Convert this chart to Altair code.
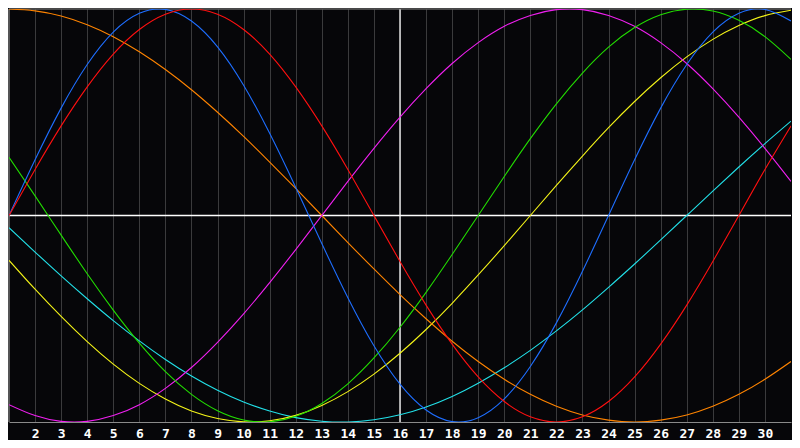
import altair as alt
import pandas as pd

days = list(range(1, 32))
tick_days = list(range(2, 31))

physical = [0.0, 0.270, 0.520, 0.731, 0.888, 0.979, 0.998, 0.942, 0.817, 0.631, 0.398, 0.136,
            -0.136, -0.398, -0.631, -0.817, -0.942, -0.998, -0.979, -0.888, -0.731, -0.520,
            -0.270, 0.0, 0.270, 0.520, 0.731, 0.888, 0.979, 0.998, 0.942]
emotional = [0.0, 0.223, 0.434, 0.623, 0.782, 0.901, 0.975, 1.0, 0.975, 0.901, 0.782, 0.623,
             0.434, 0.223, 0.0, -0.223, -0.434, -0.623, -0.782, -0.901, -0.975, -1.0, -0.975,
             -0.901, -0.782, -0.623, -0.434, -0.223, 0.0, 0.223, 0.434]
intellectual = [0.282, 0.095, -0.095, -0.282, -0.458, -0.618, -0.756, -0.866, -0.945, -0.990,
                -0.999, -0.972, -0.910, -0.815, -0.690, -0.541, -0.372, -0.189, 0.0, 0.189,
                0.372, 0.541, 0.690, 0.815, 0.910, 0.972, 0.999, 0.990, 0.945, 0.866, 0.756]
intuitive = [-0.916, -0.969, -0.997, -0.997, -0.969, -0.916, -0.837, -0.736, -0.614, -0.476,
             -0.325, -0.165, 0.0, 0.165, 0.325, 0.476, 0.614, 0.736, 0.837, 0.916, 0.969,
             0.997, 0.997, 0.969, 0.916, 0.837, 0.736, 0.614, 0.476, 0.325, 0.165]
aesthetic = [-0.217, -0.357, -0.489, -0.611, -0.720, -0.813, -0.889, -0.947, -0.983, -0.999,
             -0.994, -0.968, -0.920, -0.853, -0.768, -0.667, -0.552, -0.425, -0.288, -0.146,
             0.0, 0.146, 0.288, 0.425, 0.552, 0.667, 0.768, 0.853, 0.920, 0.968, 0.994]
awareness = [1.0, 0.991, 0.966, 0.924, 0.866, 0.793, 0.707, 0.609, 0.5, 0.383, 0.259, 0.131,
             0.0, -0.131, -0.259, -0.383, -0.5, -0.609, -0.707, -0.793, -0.866, -0.924,
             -0.966, -0.991, -1.0, -0.991, -0.966, -0.924, -0.866, -0.793, -0.707]
spiritual = [-0.059, -0.177, -0.292, -0.403, -0.509, -0.607, -0.697, -0.777, -0.846, -0.903,
             -0.947, -0.979, -0.996, -1.0, -0.989, -0.965, -0.927, -0.876, -0.812, -0.737,
             -0.653, -0.559, -0.457, -0.348, -0.235, -0.118, 0.0, 0.118, 0.235, 0.348, 0.457]

series_names = ["Spiritual", "Aesthetic", "Awareness", "Intuitive", "Intellectual", "Physical", "Emotional"]
series_values = [spiritual, aesthetic, awareness, intuitive, intellectual, physical, emotional]
series_colors = ["#22e0e8", "#f4f418", "#ff8400", "#f020f0", "#22dd00", "#1e6eff", "#ff1010"]

rows = []
for name, vals in zip(series_names, series_values):
    for d, v in zip(days, vals):
        rows.append({"day": d, "value": v, "series": name})
df = pd.DataFrame(rows)

xscale = alt.Scale(domain=[1, 31], nice=False, zero=False)
yscale = alt.Scale(domain=[-1, 1], nice=False, zero=False)

xaxis = alt.Axis(values=tick_days, grid=True, gridColor="#3a3a3c", gridWidth=1,
                 domainColor="#8a8a8a", domainWidth=1, ticks=False,
                 labelColor="#ffffff", labelFont="DejaVu Sans Mono", labelFontWeight="bold",
                 labelFontSize=13, labelPadding=5, labelAngle=0, title=None, format="d")

X = alt.X("day:Q", scale=xscale, axis=xaxis)
Y = alt.Y("value:Q", scale=yscale, axis=None)

lines = alt.Chart(df).mark_line(strokeWidth=1.1, interpolate="natural", clip=True).encode(
    x=X, y=Y,
    color=alt.Color("series:N", scale=alt.Scale(domain=series_names, range=series_colors), legend=None),
    detail="series:N",
)

rules_df = pd.DataFrame({"day": [16], "value": [0.0]})
center_h = alt.Chart(rules_df).mark_rule(color="#ffffff", strokeWidth=1.3).encode(y=Y)
center_v = alt.Chart(rules_df).mark_rule(color="#ffffff", strokeWidth=1.3).encode(x=X)
border_df = pd.DataFrame({"day": [1], "value": [1.0]})
top_border = alt.Chart(border_df).mark_rule(color="#8a8a8a", strokeWidth=1.2).encode(y=Y)
left_border = alt.Chart(border_df).mark_rule(color="#8a8a8a", strokeWidth=1.2).encode(x=X)

chart = alt.layer(center_h, center_v, top_border, left_border, lines).properties(
    width=784, height=432, padding=0, background="#060609",
    autosize=alt.AutoSizeParams(type="fit", contains="padding"),
).configure_view(stroke=None)

chart.save("out.html", embed_options={"renderer": "svg", "actions": False})
